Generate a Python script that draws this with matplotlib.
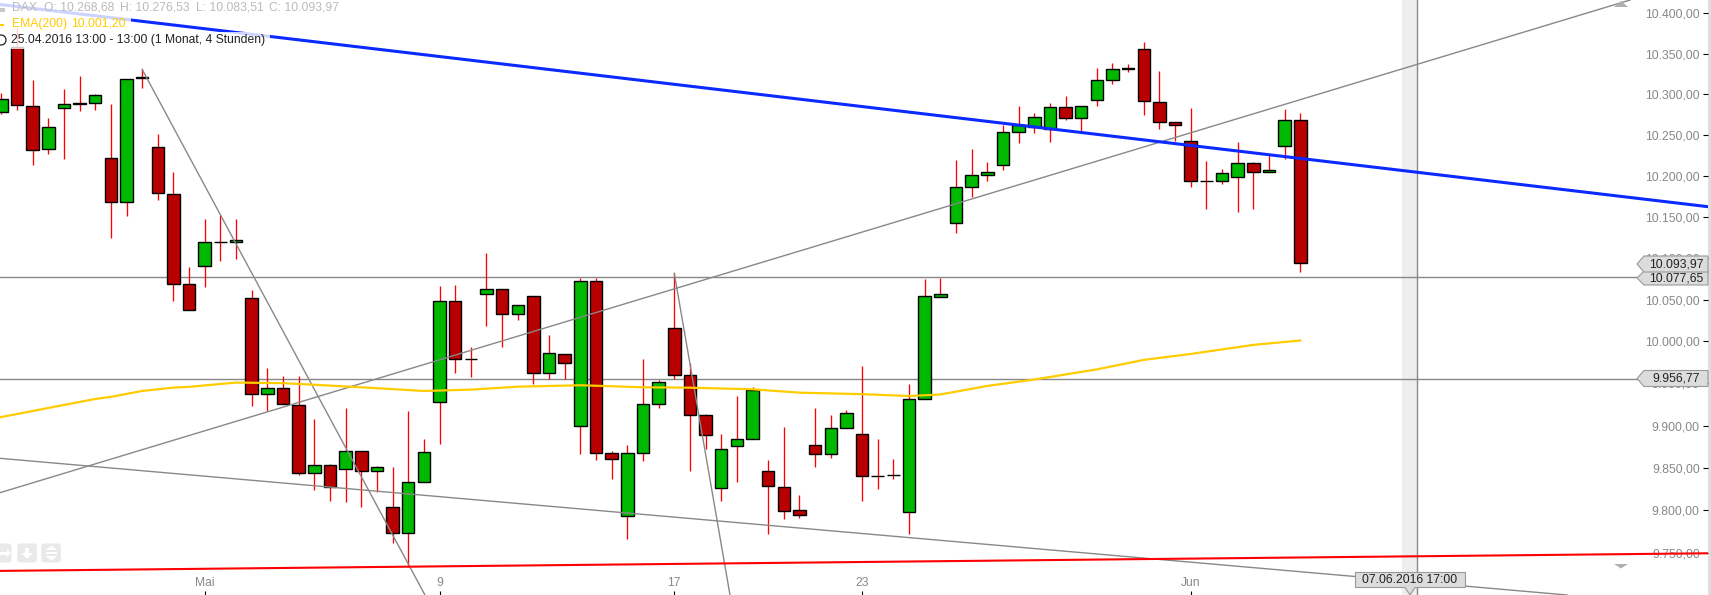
import matplotlib
matplotlib.use('Agg')
from matplotlib import pyplot as plt
from matplotlib.patches import Polygon, Rectangle, FancyBboxPatch, Circle
from matplotlib.transforms import Affine2D

plt.rcParams['font.family'] = ['Liberation Sans', 'DejaVu Sans']

# 4h DAX candles
opens = [10278, 10358, 10286, 10232.4, 10282.6, 10288.6, 10288.8, 10221.4, 10167.7, 10320.6,
         10234.8, 10177.5, 10068.6, 10090.3, 10119.3, 10119.3, 10051.8, 9937.2, 9944.3, 9924,
         9843.7, 9853.1, 9848.4, 9869.6, 9846, 9803.8, 9773.4, 9833.1, 9927.6, 10048.1,
         9978.8, 10056.6, 10062.6, 10032.6, 10054.2, 9962.2, 9984.8, 9899.2, 10072.3, 9867.2,
         9793.2, 9867.2, 9925.2, 10015.7, 9959.8, 9912.2, 9826, 9875.5, 9883.8, 9846,
         9827.2, 9800.3, 9876.6, 9866, 9897.2, 9889.7, 9841, 9841.3, 9797.9, 9931.1,
         10053.7, 10142.3, 10186, 10200.6, 10213, 10253.2, 10259.3, 10256.9, 10283.8, 10270.3,
         10292.4, 10317, 10331.8, 10355.3, 10290, 10265.5, 10242.1, 10193.3, 10193.3, 10198.2,
         10215.3, 10204.3, 10236.8, 10268.68]
highs = [10301, 10382, 10317.5, 10270.7, 10306.4, 10322.4, 10300.2, 10287.9, 10319, 10330.6,
         10251.1, 10204.3, 10089.5, 10147.5, 10152.3, 10147.5, 10061.8, 9968.1, 9959, 9959,
         9907.8, 9854.6, 9920.8, 9869.6, 9852, 9850.8, 9917.3, 9883.8, 10066.9, 10068,
         9993.5, 10106, 10062.6, 10044.2, 10054.2, 10007.8, 9984.8, 10076.7, 10076.7, 9869.9,
         9877, 9979.2, 9954.2, 10081.9, 9974.8, 9913.7, 9890.1, 9935.1, 9945.9, 9859.3,
         9898.3, 9818.2, 9920.8, 9912.5, 9918.5, 9970.9, 9883.9, 9860.4, 9949.4, 10074.8,
         10076.7, 10219.3, 10232.7, 10216.9, 10262.1, 10285.4, 10276.9, 10288.7, 10297.7, 10285,
         10332.3, 10338.5, 10337.2, 10364.4, 10328.6, 10265.5, 10283, 10218.1, 10208.3, 10241.3,
         10216.9, 10225.4, 10281.8, 10276.53]
lows = [10276, 10280.5, 10213, 10227, 10220.9, 10279.7, 10280.9, 10124.9, 10151.5, 10308,
        10170.5, 10049, 10037.4, 10065.7, 10097.1, 10099.5, 9923.6, 9917.3, 9925.2, 9841.7,
        9824.1, 9811.1, 9810, 9804.1, 9822.1, 9762, 9734.5, 9833.1, 9878.5, 9962.5,
        9957.7, 10019, 9993.5, 10025.8, 9949.4, 9955.4, 9955.4, 9866.7, 9859.7, 9837,
        9767.1, 9858.5, 9921.2, 9955.4, 9846.4, 9872.3, 9811.1, 9833.5, 9883.8, 9772.6,
        9790.4, 9791.6, 9850.7, 9861.6, 9897.2, 9811.1, 9825.2, 9836.8, 9772.6, 9931.1,
        10053.7, 10131, 10174.5, 10194, 10207.6, 10240, 10252.7, 10241.7, 10268, 10254.9,
        10285.4, 10312.5, 10327.6, 10274.4, 10257, 10242.5, 10186.3, 10159.7, 10190, 10156,
        10159.7, 10204.3, 10220.5, 10083.51]
closes = [10294, 10287, 10232, 10259.3, 10287.5, 10288, 10298.6, 10167.7, 10318.3, 10320,
          10178.7, 10068.6, 10037.4, 10119.3, 10119.3, 10121.7, 9937.2, 9944.3, 9925.2, 9843.7,
          9853.1, 9827.2, 9869.6, 9846, 9850.8, 9773.4, 9833.1, 9868.4, 10048.1, 9978.8,
          9978.8, 10062.6, 10032.6, 10044.2, 9962.2, 9986, 9974, 10072.3, 9867.2, 9860.2,
          9867.2, 9925.2, 9951.2, 9959.8, 9912.2, 9888.5, 9871.9, 9883.8, 9942, 9828.4,
          9799.1, 9794.4, 9866, 9897.2, 9914.6, 9840.2, 9840, 9841.3, 9931.1, 10054.2,
          10056.6, 10186, 10200.6, 10204.3, 10253.2, 10261.8, 10271.6, 10283.8, 10270.3, 10285,
          10317, 10330.5, 10331, 10291.2, 10265.5, 10261.8, 10193.3, 10193.3, 10203, 10215.3,
          10204.3, 10206.7, 10268, 10093.97]

ema_x = [-0.08, 3, 6, 7, 9, 11, 12, 15, 18, 21, 24, 27, 30, 33, 37, 41, 44, 48, 51, 55, 58, 60,
         63, 66, 70, 73, 76, 80, 83]
ema_y = [9909.8, 9920.8, 9931.5, 9934, 9941, 9945, 9945.9, 9951, 9950.3, 9947.4, 9944.3, 9941,
         9942.6, 9946.1, 9947.8, 9945.4, 9944.9, 9943, 9939, 9937.2, 9935, 9936.8, 9947, 9954.6,
         9966.7, 9978, 9985.1, 9995.9, 10001.2]

y_ticks = [9750, 9800, 9850, 9900, 9950, 10000, 10050, 10100, 10150, 10200, 10250, 10300, 10350, 10400]
y_labels = ['9.750,00', '9.800,00', '9.850,00', '9.900,00', '9.950,00', '10.000,00', '10.050,00',
            '10.100,00', '10.150,00', '10.200,00', '10.250,00', '10.300,00', '10.350,00', '10.400,00']
x_ticks = [13, 28, 43, 55, 76]
x_labels = ['Mai', '9', '17', '23', 'Jun']

# (x1, y1, x2, y2) of the drawn trend lines, x in candle numbers
blue_line = (-0.08, 10411, 109.05, 10162.4)
red_line = (-0.08, 9729.5, 109.05, 9750)
grey_lines = [(-0.08, 9820.9, 104.07, 10416.6),
              (-0.08, 9861.3, 100.05, 9701.5),
              (9, 10330.6, 27.07, 9701.5),
              (43, 10081.9, 46.56, 9701.5)]
h_levels = [10077.65, 9954.8]
cursor_x = 90

RED = '#b80000'
GREEN = '#00b800'
GREY = '#888888'

fig = plt.figure(figsize=(17.11, 5.95), dpi=100, facecolor='#dedede')
ax = fig.add_axes([0, 0, 1708 / 1711, 1])
ax.set_yscale('log')
ax.set_xlim(-0.083, 109.05)
ax.set_ylim(9701.5, 10416.6)
for spine in ax.spines.values():
    spine.set_visible(False)

# reference pixel coordinates for the furniture of the chart
to_px = Affine2D().scale(1, -1).translate(0, 595)

ax.axvspan(cursor_x - 0.48, cursor_x + 0.48, color='#eeeeee', lw=0, zorder=0)
ax.axvline(cursor_x + 0.48, color=GREY, lw=1, zorder=1)
for level in h_levels:
    ax.axhline(level, color=GREY, lw=1, zorder=1)

for i in range(len(opens)):
    ax.vlines(i, lows[i], highs[i], color='#ff0000', lw=0.95, zorder=2)
    up = closes[i] >= opens[i]
    ax.bar(i, abs(closes[i] - opens[i]), bottom=min(opens[i], closes[i]), width=0.8,
           color=GREEN if up else RED, edgecolor='black', lw=1.0, zorder=3)

for x1, y1, x2, y2 in grey_lines:
    ax.plot([x1, x2], [y1, y2], color=GREY, lw=1, zorder=3.2)
ax.plot(ema_x, ema_y, color='#ffcc00', lw=1.6, zorder=3.4)
ax.plot(blue_line[::2], blue_line[1::2], color='#0a2aff', lw=2.2, zorder=3.5)
ax.plot(red_line[::2], red_line[1::2], color='#ff0000', lw=1.5, zorder=3.5)

ax.yaxis.tick_right()
ax.set_yticks(y_ticks, y_labels)
ax.set_xticks(x_ticks, x_labels)
ax.minorticks_off()
ax.tick_params(axis='y', direction='in', length=3.6, width=0.8, pad=-6, labelsize=8.7,
               labelcolor=GREY, color='black')
ax.tick_params(axis='x', direction='in', length=2.9, width=0.8, pad=-13, labelsize=8.7,
               labelcolor=GREY, color='black')
for label in ax.get_yticklabels():
    label.set_horizontalalignment('right')


def price_tag(text, y_mid, half):
    pts = [(1637, y_mid), (1644, y_mid - half), (1708, y_mid - half), (1708, y_mid + half), (1644, y_mid + half)]
    ax.add_patch(Polygon(pts, transform=to_px, fc='#dcdcdc', ec='#999999', lw=0.8, zorder=6, clip_on=False))
    ax.text(1676, y_mid + 0.3, text, transform=to_px, ha='center', va='center', fontsize=8.7,
            color='#222222', zorder=7)


price_tag('10.077,65', 278, 7)
price_tag('10.093,97', 264, 8)
price_tag('9.956,77', 378.5, 8)

date_tag = [(1355.5, 572.5), (1465.5, 572.5), (1465.5, 587.5), (1415, 587.5), (1410, 595), (1405, 587.5), (1355.5, 587.5)]
ax.add_patch(Polygon(date_tag, transform=to_px, fc='#dcdcdc', ec='#999999', lw=0.8, zorder=6))
ax.text(1410, 579.8, '07.06.2016 17:00', transform=to_px, ha='center', va='center', fontsize=8.7,
        color='#222222', zorder=7)

# scroll arrows on the right
ax.add_patch(Polygon([(1614, 7), (1621, 1), (1628, 7)], transform=to_px, fc='#b0b0b0', lw=0, zorder=6))
ax.add_patch(Polygon([(1614, 564), (1621, 568.5), (1628, 564)], transform=to_px, fc='#b0b0b0', lw=0, zorder=6))
for y in (8.5, 10.5, 558.5, 560.5, 562.5):
    ax.add_patch(Rectangle((1614, y), 14, 0.8, transform=to_px, fc='#b0b0b0', lw=0, zorder=6))

# buttons at the lower left
for bx in (-8, 17.3, 41.3):
    ax.add_patch(FancyBboxPatch((bx, 543.5), 19.5, 19, boxstyle='round,pad=0,rounding_size=3', transform=to_px,
                                fc='#e9e9e9', lw=0, zorder=6))
ax.add_patch(Polygon([(11, 553), (7, 549), (7, 557)], transform=to_px, fc='white', lw=0, zorder=7))
ax.add_patch(Rectangle((0, 551.5), 7, 3, transform=to_px, fc='white', lw=0, zorder=7))
ax.add_patch(Polygon([(21.5, 553), (33, 553), (27.2, 559)], transform=to_px, fc='white', lw=0, zorder=7))
ax.add_patch(Rectangle((25.2, 547.5), 4, 5.5, transform=to_px, fc='white', lw=0, zorder=7))
ax.add_patch(Polygon([(45.5, 550), (57, 550), (51.2, 545.5)], transform=to_px, fc='white', lw=0, zorder=7))
ax.add_patch(Polygon([(45.5, 556), (57, 556), (51.2, 560.5)], transform=to_px, fc='white', lw=0, zorder=7))
ax.add_patch(Rectangle((45.5, 552), 11.5, 2, transform=to_px, fc='white', lw=0, zorder=7))

# header, its white boxes let the lines shine through
for w, y1, y2 in [(344, 0, 16), (131, 16, 32), (270, 32, 49)]:
    ax.add_patch(Rectangle((0, y1), w, y2 - y1, transform=to_px, fc='white', alpha=0.8, lw=0, zorder=8))
for x, text in [(11.7, 'DAX'), (43.7, 'O: 10.268,68'), (119.5, 'H: 10.276,53'),
                (195.7, 'L: 10.083,51'), (269.3, 'C: 10.093,97')]:
    ax.text(x, 8, text, transform=to_px, va='center', fontsize=8.7, color='#bbbbbb', zorder=9)
ax.text(11.7, 24, 'EMA(200)', transform=to_px, va='center', fontsize=8.7, color='#ffcc00', zorder=9)
ax.text(71, 24, '10.001,20', transform=to_px, va='center', fontsize=8.7, color='#ffcc00', zorder=9)
ax.text(11.3, 40, '25.04.2016 13:00 - 13:00 (1 Monat, 4 Stunden)', transform=to_px, va='center',
        fontsize=8.7, color='#222222', zorder=9)
ax.add_patch(Rectangle((0, 24), 4.3, 2, transform=to_px, fc='#ffcc00', lw=0, zorder=9))
ax.add_patch(Circle((1, 40), 5, transform=to_px, fc='none', ec='#222222', lw=0.9, zorder=9))
ax.add_patch(Rectangle((0, 8), 5, 4, transform=to_px, fc='#c8c8c8', lw=0, zorder=9))

fig.savefig('out.png', dpi=100, facecolor=fig.get_facecolor())
